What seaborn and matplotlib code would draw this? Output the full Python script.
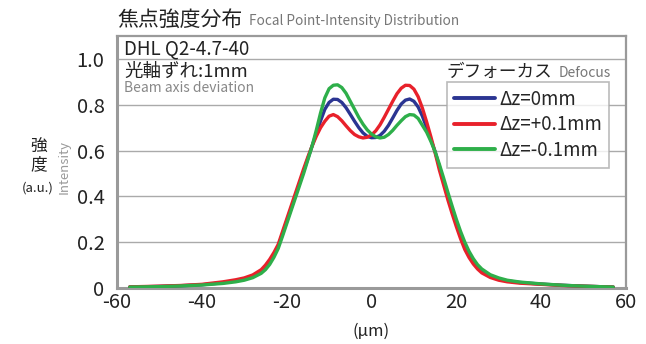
import numpy as np
import pandas as pd
import matplotlib
matplotlib.use("Agg")
import matplotlib.pyplot as plt
import seaborn as sns

# ---- data ----
x_um = [-57, -50, -45, -40, -35, -32, -30, -28,
        -26, -25, -24, -23, -22, -21, -20, -19, -18, -17, -16, -15, -14, -13, -12, -11,
        -10, -9, -8, -7, -6, -5, -4, -3, -2, -1, 0, 1, 2, 3, 4, 5, 6, 7, 8, 9,
        10, 11, 12, 13, 14, 15, 16, 17, 18, 19, 20, 21, 22, 23, 24, 25, 26,
        28, 30, 32, 35, 40, 45, 50, 57]

dz0 = [0.004, 0.007, 0.010, 0.014, 0.023, 0.031, 0.039, 0.051,
       0.072, 0.090, 0.114, 0.145, 0.182, 0.235, 0.290, 0.345, 0.400, 0.455, 0.510, 0.565, 0.620, 0.675, 0.730, 0.780,
       0.810, 0.824, 0.823, 0.810, 0.787, 0.758, 0.728, 0.700, 0.677, 0.662, 0.656, 0.657, 0.666, 0.684, 0.710, 0.742, 0.775, 0.803, 0.820, 0.825,
       0.815, 0.790, 0.750, 0.700, 0.648, 0.595, 0.530, 0.465, 0.400, 0.340, 0.283, 0.230, 0.182, 0.145, 0.115, 0.092, 0.074,
       0.052, 0.039, 0.031, 0.024, 0.017, 0.012, 0.008, 0.004]

dz_plus = [0.005, 0.008, 0.011, 0.016, 0.027, 0.036, 0.044, 0.057,
           0.080, 0.100, 0.125, 0.155, 0.190, 0.245, 0.300, 0.355, 0.410, 0.465, 0.520, 0.572, 0.620, 0.663, 0.700, 0.728,
           0.750, 0.757, 0.748, 0.730, 0.708, 0.687, 0.670, 0.660, 0.655, 0.658, 0.668, 0.686, 0.712, 0.745, 0.780, 0.815, 0.848, 0.872, 0.885, 0.884,
           0.868, 0.835, 0.785, 0.725, 0.660, 0.590, 0.515, 0.450, 0.385, 0.325, 0.268, 0.215, 0.168, 0.133, 0.105, 0.083, 0.066,
           0.046, 0.034, 0.027, 0.021, 0.016, 0.011, 0.008, 0.004]

dz_minus = [0.004, 0.006, 0.009, 0.013, 0.020, 0.027, 0.034, 0.045,
            0.064, 0.080, 0.103, 0.134, 0.172, 0.225, 0.280, 0.335, 0.390, 0.445, 0.500, 0.560, 0.620, 0.690, 0.765, 0.830,
            0.870, 0.885, 0.887, 0.875, 0.850, 0.815, 0.780, 0.745, 0.715, 0.690, 0.672, 0.660, 0.655, 0.658, 0.670, 0.688, 0.710, 0.730, 0.748, 0.757,
            0.755, 0.740, 0.710, 0.680, 0.640, 0.595, 0.540, 0.480, 0.418, 0.358, 0.300, 0.247, 0.200, 0.160, 0.128, 0.102, 0.083,
            0.058, 0.044, 0.034, 0.026, 0.018, 0.012, 0.008, 0.004]

series_labels = ["Δz=0mm", "Δz=+0.1mm", "Δz=-0.1mm"]
series_colors = ["#2B3592", "#E8212B", "#2EAF4A"]
x_ticks = [-60, -40, -20, 0, 20, 40, 60]
y_ticks = [0, 0.2, 0.4, 0.6, 0.8, 1.0]
y_tick_labels = ["0", "0.2", "0.4", "0.6", "0.8", "1.0"]

df = pd.DataFrame({
    "x": x_um * 3,
    "y": dz0 + dz_plus + dz_minus,
    "series": [series_labels[0]] * len(x_um) + [series_labels[1]] * len(x_um) + [series_labels[2]] * len(x_um),
})

sns.set_theme(style="white")
plt.rcParams["font.family"] = ["Noto Sans CJK JP", "DejaVu Sans"]
GRAY = "#9a9a9a"

fig = plt.figure(figsize=(6.46, 3.44), dpi=100)
ax = fig.add_axes([117 / 646, 1 - 288 / 344, (626 - 117) / 646, (288 - 36) / 344])

sns.lineplot(data=df, x="x", y="y", hue="series", hue_order=series_labels,
             palette=series_colors, linewidth=2.4, ax=ax, zorder=3)

ax.set_xlim(-60, 60)
ax.set_ylim(0, 1.1)
ax.set_xticks(x_ticks)
ax.set_xticklabels([str(t) for t in x_ticks])
ax.set_yticks(y_ticks)
ax.set_yticklabels(y_tick_labels)
ax.tick_params(axis="x", direction="in", length=4, width=1, color=GRAY,
               labelsize=14.5, pad=3, labelcolor="#222222")
ax.tick_params(axis="y", length=0, labelsize=14.5, pad=9, labelcolor="#222222")
ax.yaxis.grid(True, color="#aaaaaa", linewidth=1)
ax.xaxis.grid(False)
ax.set_axisbelow(True)
for side in ["left", "bottom"]:
    ax.spines[side].set_color(GRAY)
    ax.spines[side].set_linewidth(2.2)
for side in ["top", "right"]:
    ax.spines[side].set_color(GRAY)
    ax.spines[side].set_linewidth(1.6)
ax.set_xlabel("(µm)", fontsize=12, labelpad=7, color="#222222")
ax.set_ylabel("")

# legend
leg = ax.legend(loc="upper left", bbox_to_anchor=((447 - 117) / 509, (288 - 82) / 252),
                borderaxespad=0, fontsize=13.5, frameon=True, fancybox=False,
                handlelength=2.2, handletextpad=0.25, labelspacing=0.25,
                borderpad=0.35, edgecolor="#aaaaaa")
leg.get_frame().set_linewidth(1.2)
for line in leg.get_lines():
    line.set_linewidth(2.8)

# texts
fig.text(117 / 646, 1 - 20 / 344, "焦点強度分布", fontsize=15, va="center", ha="left", color="#222222")
fig.text(249 / 646, 1 - 21 / 344, "Focal Point-Intensity Distribution", fontsize=9.8,
         va="center", ha="left", color="#777777")
fig.text(124 / 646, 1 - 49 / 344, "DHL Q2-4.7-40", fontsize=13.5, va="center", ha="left", color="#222222")
fig.text(124 / 646, 1 - 72 / 344, "光軸ずれ:1mm", fontsize=13.3, va="center", ha="left", color="#222222")
fig.text(124 / 646, 1 - 88 / 344, "Beam axis deviation", fontsize=10, va="center", ha="left", color="#888888")
fig.text(446 / 646, 1 - 72 / 344, "デフォーカス", fontsize=12.7, va="center", ha="left", color="#222222")
fig.text(559 / 646, 1 - 73 / 344, "Defocus", fontsize=10, va="center", ha="left", color="#777777")
fig.text(39 / 646, 1 - 147 / 344, "強", fontsize=12, va="center", ha="center", color="#222222")
fig.text(39 / 646, 1 - 165 / 344, "度", fontsize=12, va="center", ha="center", color="#222222")
fig.text(38 / 646, 1 - 188 / 344, "(a.u.)", fontsize=9.5, va="center", ha="center", color="#222222")
fig.text(64 / 646, 1 - 167 / 344, "Intensity", fontsize=9.5, rotation=90, va="center", ha="center", color="#999999")

fig.savefig("out.png", dpi=100)
